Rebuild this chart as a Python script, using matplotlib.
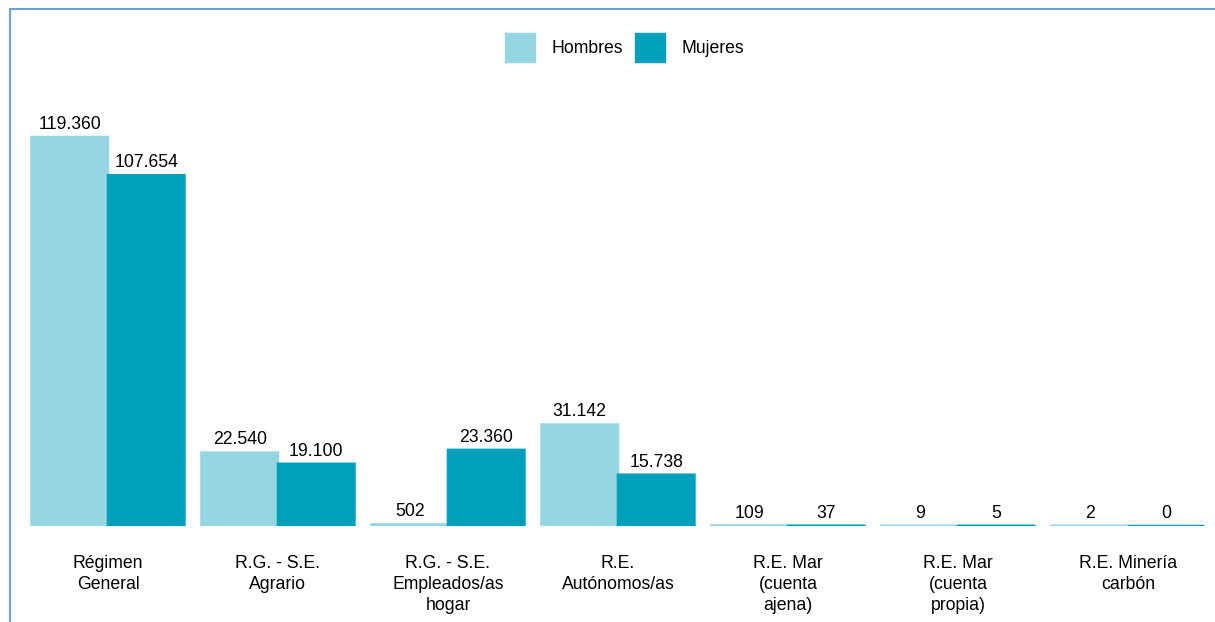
import matplotlib.pyplot as plt
import numpy as np
from matplotlib.lines import Line2D
from matplotlib.patches import Patch

plt.rcParams['font.family'] = ['Liberation Sans', 'DejaVu Sans']

categorias = ['Régimen\nGeneral', 'R.G. - S.E.\nAgrario', 'R.G. - S.E.\nEmpleados/as\nhogar',
              'R.E.\nAutónomos/as', 'R.E. Mar\n(cuenta\najena)', 'R.E. Mar\n(cuenta\npropia)',
              'R.E. Minería\ncarbón']
hombres = [119360, 22540, 502, 31142, 109, 9, 2]
mujeres = [107654, 19100, 23360, 15738, 37, 5, 0]

c_h = '#95d6e3'
c_m = '#00a0bd'
fs = 12.7


def fmt(v):
    return f'{v:,}'.replace(',', '.')


fig = plt.figure(figsize=(12.15, 6.22), dpi=100)
ax = fig.add_axes([0.0189, 0.1543, 0.9794, 0.6812])

x = np.arange(len(categorias))
w = 0.45
b1 = ax.bar(x - w / 2, hombres, w, color=c_h, edgecolor=c_h, linewidth=1.8, snap=False)
b2 = ax.bar(x + w / 2, mujeres, w, color=c_m, edgecolor=c_m, linewidth=1.8, snap=False)
ax.bar_label(b1, labels=[fmt(v) for v in hombres], padding=3, fontsize=fs)
ax.bar_label(b2, labels=[fmt(v) for v in mujeres], padding=3, fontsize=fs)

ax.set_xlim(-0.5, len(categorias) - 0.5)
ax.set_ylim(0, 130000)
ax.set_xticks(x)
ax.set_xticklabels(categorias, fontsize=fs, linespacing=1.3, va='top')
ax.tick_params(axis='x', length=0, pad=21)
ax.set_yticks([])
for s in ax.spines.values():
    s.set_visible(False)

handles = [Patch(color=c_h, label='Hombres'), Patch(color=c_m, label='Mujeres')]
fig.legend(handles=handles, loc='center', bbox_to_anchor=(0.514, 0.9244), ncol=2,
           frameon=False, fontsize=fs, handlelength=1.72, handleheight=2.15,
           handletextpad=0.9, columnspacing=0.7)

# marco superior e izquierdo
frame = '#6f9fd8'
fig.add_artist(Line2D([10 / 1215, 1], [1 - 9 / 622, 1 - 9 / 622], color=frame, lw=1.5,
                      transform=fig.transFigure))
fig.add_artist(Line2D([10 / 1215, 10 / 1215], [0, 1 - 9 / 622], color=frame, lw=1.5,
                      transform=fig.transFigure))

fig.savefig('out.png', dpi=100)
